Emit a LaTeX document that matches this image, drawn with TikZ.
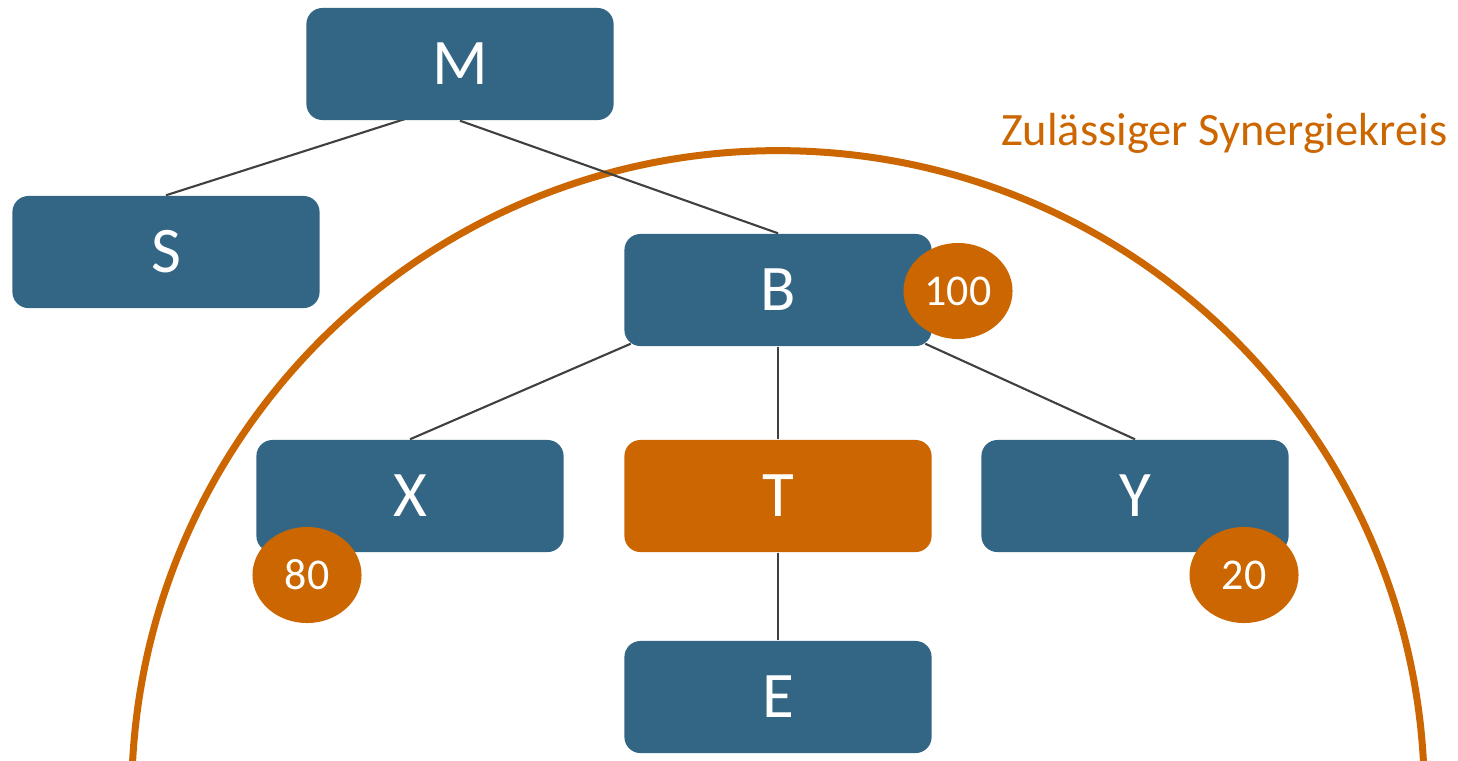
\documentclass[tikz,border=0pt]{standalone}
\usepackage{fontspec}
\setmainfont{Carlito}
\usetikzlibrary{shapes.geometric,backgrounds}
\definecolor{boxblue}{HTML}{336685}
\definecolor{accent}{HTML}{CC6600}
\definecolor{linegray}{HTML}{404040}
\begin{document}
\begin{tikzpicture}[x=0.01cm,y=-0.01cm,
  box/.style={rectangle, rounded corners=0.16cm, fill=boxblue, text=white,
    minimum width=3.07cm, minimum height=1.12cm, inner sep=0pt,
    font=\fontsize{18.5}{20}\selectfont},
  hot/.style={box, fill=accent},
  badge/.style={ellipse, fill=accent, text=white, minimum width=1.09cm,
    minimum height=0.96cm, inner sep=0pt, font=\fontsize{12.5}{14}\selectfont},
  conn/.style={draw=linegray, line width=0.6pt}]
\useasboundingbox (0,0) rectangle (1458,760);
\node[box] (M) at (460,64) {M};
\node[box] (S) at (166,252) {S};
\node[box] (B) at (778,290) {B};
\node[box] (X) at (410,496) {X};
\node[hot] (T) at (778,496) {T};
\node[box] (Y) at (1135,496) {Y};
\node[box] (E) at (778,697) {E};
\node[badge] (b100) at (958,291) {100};
\node[badge] (b80) at (307,575) {80};
\node[badge] (b20) at (1244,575) {20};
\node[anchor=base east, text=accent, font=\fontsize{13.2}{15}\selectfont, inner sep=0pt] (lbl) at (1448,145) {Zulässiger Synergiekreis};
\begin{scope}[on background layer]
  \begin{scope}
    \clip (0,0) rectangle (1458,760);
    \draw[accent, line width=0.07cm] (778,797) circle[radius=6.46cm];
  \end{scope}
  \draw[conn] ([xshift=-0.51cm,yshift=0.03cm]M.south) -- (S.north);
  \draw[conn] (M.south) -- (B.north);
  \draw[conn] ([xshift=0.07cm,yshift=0.03cm]B.south west) -- (X.north);
  \draw[conn] (B.south) -- (T.north);
  \draw[conn] ([xshift=-0.07cm,yshift=0.03cm]B.south east) -- (Y.north);
  \draw[conn] (T.south) -- (E.north);
\end{scope}
\end{tikzpicture}
\end{document}
